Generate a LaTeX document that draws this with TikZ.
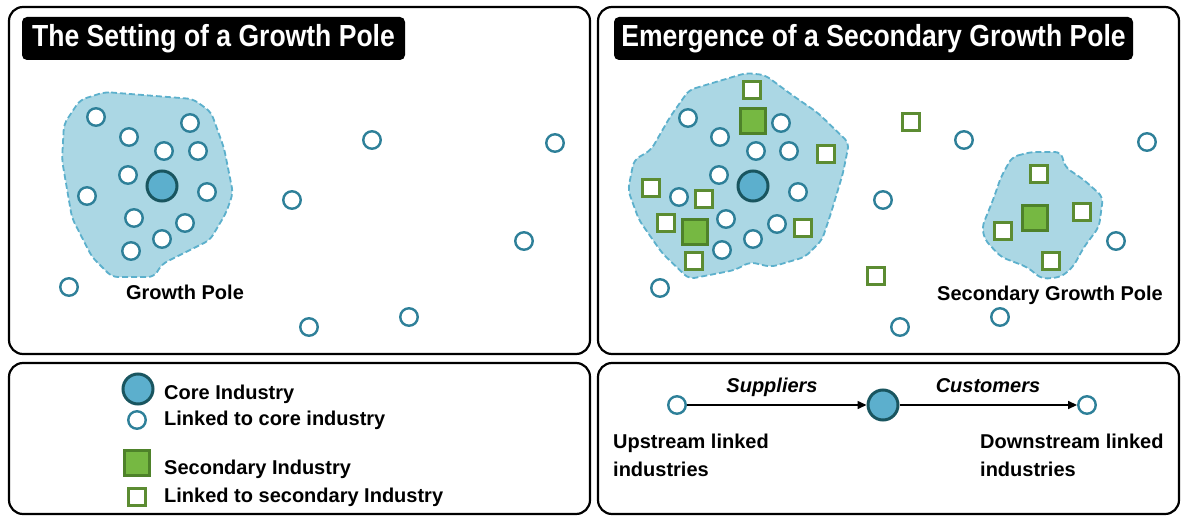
\documentclass[tikz,border=0pt]{standalone}
\usepackage{fontspec}
\setmainfont{Liberation Sans}
\newfontfamily\titlefont[FakeStretch=0.87]{Liberation Sans}
\usetikzlibrary{arrows.meta}
\definecolor{blobfill}{RGB}{171,215,228}
\definecolor{blobline}{RGB}{92,176,204}
\definecolor{circline}{RGB}{46,128,153}
\definecolor{corefill}{RGB}{92,175,205}
\definecolor{coreline}{RGB}{25,85,95}
\definecolor{sqline}{RGB}{92,140,50}
\definecolor{sqfill}{RGB}{118,184,66}
\definecolor{bigsqline}{RGB}{78,130,42}
\tikzset{
  panel/.style={draw=black, line width=2.2pt, rounded corners=14pt},
  titlebox/.style={fill=black, rounded corners=5pt, text=white, font=\titlefont\bfseries\fontsize{30.5}{36}\selectfont, minimum height=43pt, inner sep=0pt},
  blob/.style={fill=blobfill, draw=blobline, line width=1.8pt, dash pattern=on 6pt off 3pt, rounded corners=6pt},
  lc/.style={circle, draw=circline, fill=white, line width=2.4pt, minimum size=17.5pt, inner sep=0pt},
  core/.style={circle, draw=coreline, fill=corefill, line width=3pt, minimum size=30pt, inner sep=0pt},
  ls/.style={rectangle, draw=sqline, fill=white, line width=2.4pt, minimum size=17pt, inner sep=0pt},
  bs/.style={rectangle, draw=bigsqline, fill=sqfill, line width=3pt, minimum size=25pt, inner sep=0pt},
  lbl/.style={font=\fontsize{20}{24}\selectfont\bfseries, anchor=base west, inner sep=0pt},
  clbl/.style={font=\fontsize{20}{24}\selectfont\bfseries, anchor=base, inner sep=0pt},
  arr/.style={line width=1.5pt, -{Triangle[length=9pt,width=8pt]}}
}
\begin{document}
\begin{tikzpicture}[x=1pt,y=-1pt]
\useasboundingbox (0,0) rectangle (1185,516);
% panels
\draw[panel] (9,7) rectangle (590,354);
\draw[panel] (598,7) rectangle (1179,354);
\draw[panel] (9,363) rectangle (590,514);
\draw[panel] (598,363) rectangle (1179,514);
% titles
\node[titlebox, minimum width=383pt] (t1) at (213.5,38.5) {The Setting of a Growth Pole};
\node[titlebox, minimum width=519pt] (t2) at (873.5,38.5) {Emergence of a Secondary Growth Pole};
% ---------- panel 1 ----------
\draw[blob] (105,92) -- (193,99) -- (211,112) -- (224,148) -- (233,193) -- (226,213) -- (210,240) -- (184,253) -- (162,264) -- (154,277) -- (112,277) -- (92,257) -- (72,218) -- (62,160) -- (64,124) -- (80,100) -- cycle;
\node[lc] (a1) at (96,117) {};
\node[lc] (a2) at (129,137) {};
\node[lc] (a3) at (190,123) {};
\node[lc] (a4) at (164,151) {};
\node[lc] (a5) at (198,151) {};
\node[lc] (a6) at (128,175) {};
\node[lc] (a7) at (207,192) {};
\node[lc] (a8) at (87,196) {};
\node[lc] (a9) at (134,218) {};
\node[lc] (a10) at (185,223) {};
\node[lc] (a11) at (162,239) {};
\node[lc] (a12) at (131,251) {};
\node[core] (acore) at (162,186) {};
\node[lc] (a13) at (69,287) {};
\node[lc] (a14) at (292,200) {};
\node[lc] (a15) at (372,140) {};
\node[lc] (a16) at (555,143) {};
\node[lc] (a17) at (524,241) {};
\node[lc] (a18) at (309,327) {};
\node[lc] (a19) at (409,317) {};
\node[clbl] (gp) at (185,299) {Growth Pole};
% ---------- panel 2 ----------
\draw[blob] (689,90) -- (746,73) -- (765,75) -- (792,95) -- (818,113) -- (849,143) -- (843,173) -- (831,213) -- (822,240) -- (805,257) -- (771,267) -- (750,262) -- (735,270) -- (689,279) -- (662,253) -- (639,220) -- (628,190) -- (634,160) -- (651,150) -- (670,117) -- cycle;
\draw[blob] (1012,157) -- (1031,152) -- (1061,152) -- (1065,167) -- (1084,180) -- (1103,197) -- (1099,227) -- (1084,247) -- (1073,267) -- (1061,277) -- (1042,279) -- (1027,267) -- (1001,257) -- (985,240) -- (982,227) -- (993,200) -- (1001,177) -- cycle;
\node[lc] (b1) at (688,118) {};
\node[lc] (b2) at (720,137) {};
\node[lc] (b3) at (781,123) {};
\node[lc] (b4) at (756,151) {};
\node[lc] (b5) at (789,151) {};
\node[lc] (b6) at (719,175) {};
\node[lc] (b7) at (798,192) {};
\node[lc] (b8) at (679,197) {};
\node[lc] (b9) at (726,219) {};
\node[lc] (b10) at (777,224) {};
\node[lc] (b11) at (753,239) {};
\node[lc] (b12) at (722,250) {};
\node[core] (bcore) at (753,186) {};
\node[lc] (b13) at (660,288) {};
\node[lc] (b14) at (883,200) {};
\node[lc] (b15) at (964,140) {};
\node[lc] (b16) at (1147,142) {};
\node[lc] (b17) at (1116,241) {};
\node[lc] (b18) at (900,327) {};
\node[lc] (b19) at (1000,317) {};
\node[ls] (s1) at (752,90) {};
\node[ls] (s2) at (826,154) {};
\node[ls] (s3) at (651,188) {};
\node[ls] (s4) at (704,199) {};
\node[ls] (s5) at (666,223) {};
\node[ls] (s6) at (803,228) {};
\node[ls] (s7) at (694,261) {};
\node[ls] (s8) at (911,122) {};
\node[ls] (s9) at (876,276) {};
\node[bs] (g1) at (753,121) {};
\node[bs] (g2) at (695,232) {};
\node[ls] (s10) at (1039,174) {};
\node[ls] (s11) at (1082,212) {};
\node[ls] (s12) at (1003,231) {};
\node[ls] (s13) at (1051,261) {};
\node[bs] (g3) at (1035,218) {};
\node[clbl] (sgp) at (1050,300) {Secondary Growth Pole};
% ---------- legend ----------
\node[core] (lcore) at (138,389) {};
\node[lc] (llc) at (137,420) {};
\node[bs] (lbs) at (137,463) {};
\node[ls] (lls) at (137,497) {};
\node[lbl] (t-core) at (164,399) {Core Industry};
\node[lbl] (t-lc) at (164,425) {Linked to core industry};
\node[lbl] (t-sec) at (164,474) {Secondary Industry};
\node[lbl] (t-ls) at (164,502) {Linked to secondary Industry};
% ---------- flow ----------
\node[lc] (up) at (677,405) {};
\node[core] (mid) at (883,405) {};
\node[lc] (down) at (1087,405) {};
\draw[arr] (up) -- (mid);
\draw[arr] (mid) -- (down);
\node[clbl, font=\fontsize{20}{24}\selectfont\bfseries\itshape] (sup) at (772,392) {Suppliers};
\node[clbl, font=\fontsize{20}{24}\selectfont\bfseries\itshape] (cus) at (988,392) {Customers};
\node[lbl] (ups1) at (613,448) {Upstream linked};
\node[lbl] (ups2) at (613,476) {industries};
\node[lbl] (dns1) at (980,448) {Downstream linked};
\node[lbl] (dns2) at (980,476) {industries};
\end{tikzpicture}
\end{document}
